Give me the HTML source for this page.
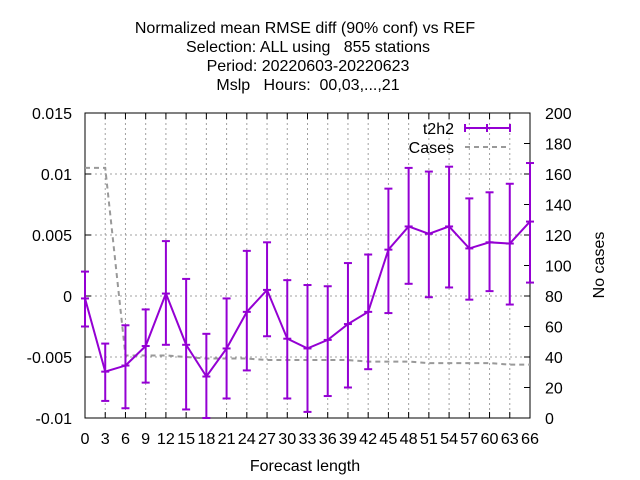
<!DOCTYPE html>
<html><head><meta charset="utf-8"><style>
body{margin:0;background:#fff}
svg{display:block;font-family:"Liberation Sans",sans-serif}
text{white-space:pre}
</style></head><body>
<svg id="chart" width="640" height="480" xmlns="http://www.w3.org/2000/svg">
<g font-size="16" text-anchor="middle" fill="#000">
<text x="305" y="33" xml:space="preserve">Normalized mean RMSE diff (90% conf) vs REF</text>
<text x="308" y="52" xml:space="preserve">Selection: ALL using   855 stations</text>
<text x="308" y="71" xml:space="preserve">Period: 20220603-20220623</text>
<text x="308" y="90" xml:space="preserve">Mslp   Hours:  00,03,...,21</text>
</g>
<g id="grid"></g>
<g id="axes"></g>
<g id="series"></g>
<text x="305" y="471" font-size="16" text-anchor="middle">Forecast length</text>
<text transform="translate(604,265) rotate(-90)" font-size="16" text-anchor="middle">No cases</text>
<g font-size="16" text-anchor="end">
<text x="454" y="134">t2h2</text>
<g stroke="#9400d3" stroke-width="2">
<line x1="465" y1="128" x2="510" y2="128"/><line x1="465" y1="124" x2="465" y2="132"/><line x1="487" y1="124" x2="487" y2="132"/><line x1="510" y1="124" x2="510" y2="132"/></g>
<text x="454" y="153">Cases</text>
<line x1="465" y1="147" x2="510" y2="147" stroke="#999" stroke-width="2" stroke-dasharray="5,4"/>
</g>
</svg>
<script>
const hours=[0,3,6,9,12,15,18,21,24,27,30,33,36,39,42,45,48,51,54,57,60,63,66];
const meanVals=[-0.0002,-0.0062,-0.0057,-0.0041,0.0002,-0.0040,-0.0066,-0.0043,-0.0013,0.0005,-0.0035,-0.0043,-0.0036,-0.0023,-0.0013,0.0038,0.0057,0.0051,0.0057,0.0039,0.0044,0.0043,0.0061];
const upperVals=[0.0020,-0.0039,-0.0024,-0.0011,0.0045,0.0014,-0.0031,-0.0002,0.0037,0.0044,0.0013,0.0009,0.0008,0.0027,0.0034,0.0088,0.0105,0.0102,0.0106,0.0080,0.0085,0.0092,0.0109];
const lowerVals=[-0.0025,-0.0086,-0.0092,-0.0071,-0.0040,-0.0093,-0.0100,-0.0084,-0.0061,-0.0033,-0.0084,-0.0095,-0.0082,-0.0075,-0.0060,-0.0014,0.0010,-0.0001,0.0007,-0.0003,0.0004,-0.0007,0.0011];
const cases=[164,164,41,41,41,40,39,39,39,38,38,38,38,38,37,37,37,36,36,36,36,35,35];
const yTicks=[0.015,0.01,0.005,0,-0.005,-0.01];
const yTickLabels=["0.015","0.01","0.005","0","-0.005","-0.01"];
const y2Ticks=[0,20,40,60,80,100,120,140,160,180,200];

const L=85,R=530,T=113,B=418,NS="http://www.w3.org/2000/svg";
const xs=h=>L+(h-0)/(66-0)*(R-L);
const ys=v=>B-(v-(-0.01))/(0.025)*(B-T);
const y2s=v=>B-v/200*(B-T);
function mk(p,tag,a){const e=document.createElementNS(NS,tag);for(const k in a)e.setAttribute(k,a[k]);p.appendChild(e);return e;}
const grid=document.getElementById('grid'),axes=document.getElementById('axes'),ser=document.getElementById('series');

hours.forEach(h=>{const x=xs(h);
 const g=mk(grid,'line',{x1:x,x2:x,y1:T,y2:B,stroke:'#a0a0a0','stroke-dasharray':'2,3','stroke-width':1});
 
 
 const t=mk(axes,'line',{x1:x,x2:x,y1:B,y2:B-6,stroke:'#000'});
 const t2=mk(axes,'line',{x1:x,x2:x,y1:T,y2:T+6,stroke:'#000'});
 const lb=mk(axes,'text',{x:x,y:444,'font-size':16,'text-anchor':'middle',textLength:(h>=10?18:9),lengthAdjust:'spacingAndGlyphs'});lb.textContent=h;
 
 
});
yTicks.forEach((v,i)=>{const y=ys(v);
 if(i>0&&i<yTicks.length-1){const g=mk(grid,'line',{x1:L,x2:R,y1:y,y2:y,stroke:'#a0a0a0','stroke-dasharray':'2,3'});}
 const t=mk(axes,'line',{x1:L,x2:L+6,y1:y,y2:y,stroke:'#000'});
 const lb=mk(axes,'text',{x:72,y:y+6,'font-size':16,'text-anchor':'end'});lb.textContent=yTickLabels[i];
 
 
});
y2Ticks.forEach(v=>{const y=y2s(v);
 const t=mk(axes,'line',{x1:R,x2:R-6,y1:y,y2:y,stroke:'#000'});
 const lb=mk(axes,'text',{x:545,y:y+6,'font-size':16});lb.textContent=v;
 
 
});
const fr=mk(axes,'rect',{x:L,y:T,width:R-L,height:B-T,fill:'none',stroke:'#000','stroke-width':1});



const cl=mk(ser,'polyline',{points:hours.map((h,i)=>xs(h)+','+y2s(cases[i])).join(' '),fill:'none',stroke:'#999','stroke-width':2,'stroke-dasharray':'5,4'});


const ml=mk(ser,'polyline',{points:hours.map((h,i)=>xs(h)+','+ys(meanVals[i])).join(' '),fill:'none',stroke:'#9400d3','stroke-width':2});


hours.forEach((h,i)=>{const x=xs(h),yu=ys(upperVals[i]),yl=ys(lowerVals[i]),ym=ys(meanVals[i]);
 const g=mk(ser,'g',{stroke:'#9400d3','stroke-width':2});
 
 
 mk(g,'line',{x1:x,x2:x,y1:yu,y2:yl});
 mk(g,'line',{x1:x-4,x2:x+4,y1:yu,y2:yu});
 mk(g,'line',{x1:x-4,x2:x+4,y1:yl,y2:yl});
 mk(g,'line',{x1:x-4,x2:x+4,y1:ym,y2:ym});
});
</script>
</body></html>
